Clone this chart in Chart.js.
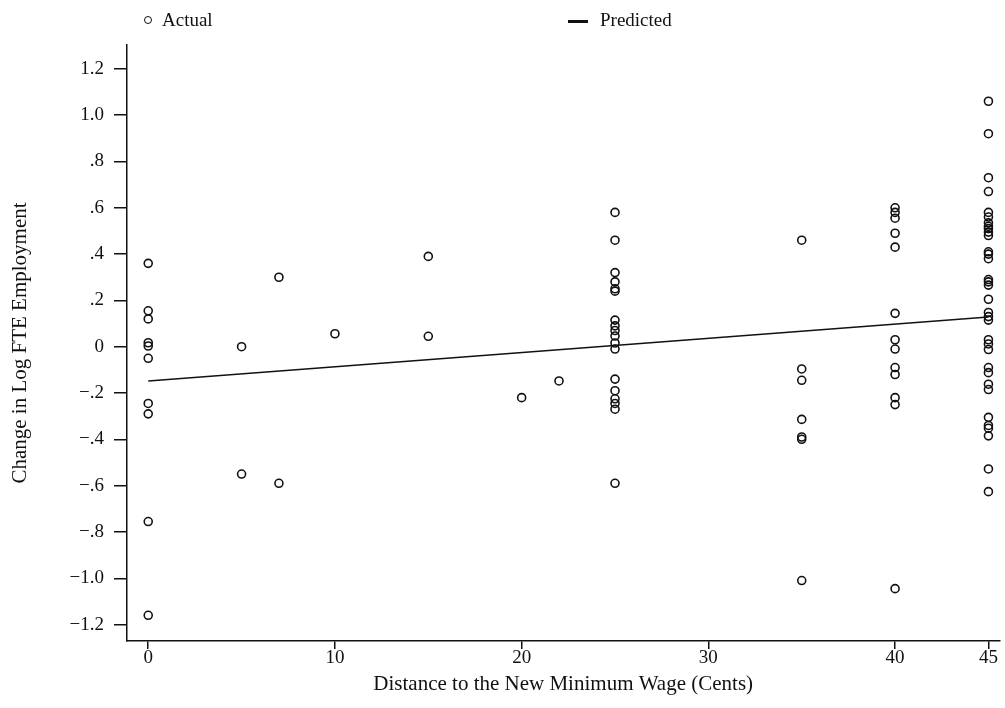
<!DOCTYPE html>
<html>
<head>
<meta charset="utf-8">
<script src="https://cdn.jsdelivr.net/npm/chart.js@4.4.1/dist/chart.umd.min.js"></script>
<style>
  html, body { margin: 0; padding: 0; background: #fff; }
  #wrap { position: relative; width: 1005px; height: 708px; }
  canvas { position: absolute; left: 0; top: 0; }
  .leg { position: absolute; font-family: "Liberation Serif", "DejaVu Serif", serif; font-size: 19px; color: #111; top: 9px; }
  .legCircle { position: absolute; width: 6px; height: 6px; border: 1.8px solid #111; border-radius: 50%; top: 16px; left: 144px; }
  .legLine { position: absolute; width: 20px; height: 3px; background: #111; top: 20px; left: 568px; }
</style>
</head>
<body>
<div id="wrap">
  <canvas id="c" width="1005" height="708"></canvas>
  <div class="legCircle"></div>
  <div class="leg" style="left:162px">Actual</div>
  <div class="legLine"></div>
  <div class="leg" style="left:600px">Predicted</div>
</div>
<script>
// Distances (cents) and actual changes in log FTE employment, per column
const act0  = [0.36, 0.155, 0.12, 0.017, 0.003, -0.05, -0.245, -0.29, -0.755, -1.16];
const act5  = [0.0, -0.55];
const act7  = [0.30, -0.59];
const act10 = [0.056];
const act15 = [0.39, 0.045];
const act20 = [-0.22];
const act22 = [-0.148];
const act25 = [0.58, 0.46, 0.32, 0.28, 0.25, 0.24, 0.115, 0.09, 0.07, 0.046, 0.016, -0.01, -0.14, -0.19, -0.225, -0.245, -0.27, -0.59];
const act35 = [0.46, -0.096, -0.145, -0.314, -0.39, -0.40, -1.01];
const act40 = [0.60, 0.58, 0.555, 0.49, 0.43, 0.144, 0.03, -0.01, -0.09, -0.12, -0.22, -0.25, -1.045];
const act45 = [1.06, 0.92, 0.73, 0.67, 0.58, 0.56, 0.535, 0.52, 0.51, 0.495, 0.48, 0.41, 0.40, 0.38, 0.29, 0.28, 0.266, 0.205, 0.148, 0.13, 0.115, 0.03, 0.012, -0.012, -0.09, -0.112, -0.162, -0.185, -0.305, -0.34, -0.352, -0.385, -0.528, -0.626];
const actualGroups = [[0, act0], [5, act5], [7, act7], [10, act10], [15, act15], [20, act20], [22, act22], [25, act25], [35, act35], [40, act40], [45, act45]];

// Predicted regression line (endpoints)
const predX = [0, 45];
const predY = [-0.148, 0.128];

// Tick values and labels
const xTicks = [0, 10, 20, 30, 40, 45];
const yTicks = [1.2, 1.0, 0.8, 0.6, 0.4, 0.2, 0, -0.2, -0.4, -0.6, -0.8, -1.0, -1.2];
const yTickLabels = ["1.2", "1.0", ".8", ".6", ".4", ".2", "0", "\u2212.2", "\u2212.4", "\u2212.6", "\u2212.8", "\u22121.0", "\u22121.2"];

const actualPts = [];
actualGroups.forEach(([x, ys]) => ys.forEach(y => actualPts.push({x: x, y: y})));
const predPts = predX.map((x, i) => ({x: x, y: predY[i]}));

const serif = '"Liberation Serif", "DejaVu Serif", serif';
const ink = '#111';

new Chart(document.getElementById('c'), {
  type: 'scatter',
  data: {
    datasets: [
      {
        label: 'Actual',
        data: actualPts,
        pointRadius: 4,
        pointHoverRadius: 4,
        pointBorderWidth: 1.6,
        pointBorderColor: ink,
        pointBackgroundColor: 'rgba(0,0,0,0)',
        showLine: false
      },
      {
        label: 'Predicted',
        data: predPts,
        type: 'line',
        borderColor: ink,
        borderWidth: 1.6,
        pointRadius: 0,
        fill: false
      }
    ]
  },
  options: {
    responsive: false,
    animation: false,
    layout: { padding: { top: 45, right: 3, left: 0, bottom: 0 } },
    plugins: { legend: { display: false }, tooltip: { enabled: false } },
    scales: {
      x: {
        type: 'linear',
        min: -1.137,
        max: 45.587,
        afterBuildTicks: (s) => { s.ticks = xTicks.map(v => ({value: v})); },
        afterFit: (s) => { s.height = 67; },
        border: { display: true, color: ink, width: 1.5 },
        grid: { drawOnChartArea: false, drawTicks: true, tickLength: 8, color: ink, lineWidth: 1.5 },
        ticks: { color: ink, font: { family: serif, size: 19 }, padding: -2, maxRotation: 0, autoSkip: false,
                 callback: (v) => String(v) },
        title: { display: true, text: 'Distance to the New Minimum Wage (Cents)', color: ink,
                 font: { family: serif, size: 21 }, padding: { top: 4, bottom: 11 } }
      },
      y: {
        type: 'linear',
        min: -1.271,
        max: 1.303,
        afterBuildTicks: (s) => { s.ticks = yTicks.map(v => ({value: v})); },
        afterFit: (s) => { s.width = 127; },
        border: { display: true, color: ink, width: 1.5 },
        grid: { drawOnChartArea: false, drawTicks: true, tickLength: 13, color: ink, lineWidth: 1.5 },
        ticks: { color: ink, font: { family: serif, size: 19 }, padding: 10, autoSkip: false,
                 callback: (v, i) => yTickLabels[yTicks.indexOf(Math.round(v * 10) / 10)] },
        title: { display: true, text: 'Change in Log FTE Employment', color: ink,
                 font: { family: serif, size: 21 }, padding: { top: 8, bottom: 0 } }
      }
    }
  }
});
</script>
</body>
</html>
